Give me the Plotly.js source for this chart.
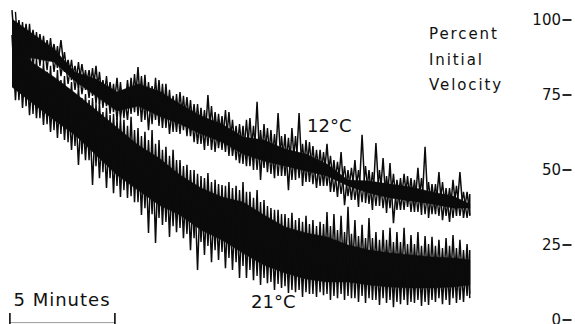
<!DOCTYPE html>
<html>
<head>
<meta charset="utf-8">
<script src="https://cdn.plot.ly/plotly-3.0.1.min.js"></script>
<style>
  html, body { margin: 0; padding: 0; background: #fff; }
  #chart { width: 575px; height: 324px; }
</style>
</head>
<body>
<div id="chart"></div>
<script>
// ---- data (time in minutes, value in percent of initial velocity) ----
const spikeTimes = [0,0.33,0.67,1,1.33,1.67,2,2.33,2.67,3,3.33,3.67,4,4.33,4.67,5,5.33,5.67,6,6.33,6.67,7,7.33,7.67,8,8.33,8.67,9,9.33,9.67,10,10.33,10.67,11,11.33,11.67,12,12.33,12.67,13,13.33,13.67,14,14.33,14.67,15,15.33,15.67,16,16.33,16.67,17,17.33,17.67,18,18.33,18.67,19,19.33,19.67,20,20.33,20.67,21,21.33,21.67];

// 12 °C trace: large upper / lower excursions
const hi12 = [103.3,100,98.7,96.7,95.3,93.3,92,93.3,86.7,84.7, 85.3,83.3,84.7,80,79.3,80.7,76.7,80.7,84.3,81.7, 78,80,78.7,74.7,76,74.3,72,70.7,75,69.3, 68,69.3,64.7,64.7,67.3,72.7,65.3,63.3,69,62, 64,69,60,58,56.7,58.7,53.3,56,50,53.3, 61.7,50,59,54,52.3,46.7,48.7,47.3,50.7,57.7, 45.3,49.3,44,46.7,49.3,42.7];
const lo12 = [88.3,89.3,86.7,87.3,86,86.7,84,82.7,80,77.3, 76.7,74.7,72,71.3,69.3,67.3,66.7,69.3,66,63.3, 66.7,64,62,62.7,63.3,61.3,58.7,56.7,56.7,57.3, 56,54.7,52.3,51.3,50,46.7,49.3,47.3,48,43.3, 46.7,44.7,46,44,44.7,42.7,41,38.3,40,37.7, 39,36.7,38,35.7,32.3,36.7,37.7,36,35,34, 35.3,33.3,32.7,34.7,34,35];
// 12 °C trace: smaller excursions in between
const hiB12 = [102.7,99.3,98.7,96,94.7,94,91.3,89.3,86.7,86, 83.3,84,82.7,81.3,78.7,79.3,80,82,81.3,79.3, 80.7,78.7,76.7,75.3,74.7,73.3,72,70,71.3,68.7, 70,66.7,65.3,66.7,64.7,63.3,64,62,61.3,60.7, 61.3,58.7,59.3,56.7,56,54.7,52.7,51.3,50.7,50, 51.3,49.3,50,48,48.7,47.3,48,46.7,47.3,46, 45.3,46,44,44.7,42.7,42];
const loB12 = [85.3,86,84,84.7,83.3,82.7,81.3,78.7,76.7,75.3, 74,72,70.7,68.7,66.7,67.3,68.7,68,66.7,65.3, 64.7,64,62.7,62,61.3,59.3,58.7,58,56,56.7, 54.7,53.3,52,51.3,50,50.7,48.7,48,48,46.7, 47.3,46,45.3,44.7,44.7,42.7,42,41.3,40,39.3, 38.7,38,37.3,37.3,36.7,36.7,36,36,35.3,35.3, 34.7,34.7,34,34.7,34,34.7];

// 21 °C trace
const hi21 = [95,92.7,88.3,86,83.3,82.7,80.7,80,77.3,75, 74,73.3,72,69.3,68.3,67.3,66.7,67.7,64,62.7, 63.3,60,57.7,56.7,53.3,51.7,50,48,49,46.7, 45,46,44.7,46,42.7,43.3,40,37.3,36.7,35.3, 35.7,34,34.7,33.3,32.7,36,35.3,34.7,37.7,33.3, 31.7,34,29.3,30,30.7,29.3,30.7,28.3,29.3,28, 27.7,26.7,27.3,28.3,26.7,25.3];
const lo21 = [73.3,70.7,68.3,67.3,65,62.7,60.7,60,56.7,51.7, 53.3,45,47.3,44,42.3,41,40.7,39.3,35,29, 25.7,31.7,27.7,29.3,27.3,23.3,16.7,21.7,19.3,20, 17.3,16.7,14,14,13.3,11.7,12.3,10,10.7,9, 9.3,7.7,8.7,7.7,8.3,6.7,7.3,6.7,7.3,6, 5.7,6.7,5,5.7,4.3,5.3,5,5.7,4.7,5, 6,5.3,5,5.7,6,7.3];
const hiB21 = [94.7,92,90,87.3,86,84.7,83.3,81.3,79.3,78, 75.3,74,72.7,70.7,68.7,67.3,64.7,63.3,61.3,60, 58.7,56.7,54.7,53.3,51.3,50,48.7,47.3,46,45.3, 44.7,44,43.3,42.7,40.7,39.3,38,36.7,35.3,34, 33.3,32.7,32,31.3,32,31.3,30,29.3,28.7,28, 27.3,27.3,26.7,26.7,26,26,25.3,25.3,24.7,25.3, 24.7,24,24.7,24,23.3,23.3];
const loB21 = [73.3,71.3,68.7,67.3,65.3,63.3,62,59.3,58,55.3, 53.3,51.3,49.3,47.3,44.7,43.3,41.3,39.3,37.3,35.3, 34,32.7,31.3,30.7,28.7,27.3,26,24.7,23.3,22.7, 20.7,19.3,18,16.7,14.7,14,12.7,12,11.3,10, 10,9.3,8.7,9.3,8.7,8,8.7,8,7.3,8, 7.3,6.7,7.3,6.7,6,6.7,6,6.7,6,6.7, 7.3,6.7,7.3,6.7,8,8.7];

// solid inner core of each band
const coreTimes = [0,1,2,3,4,5,6,7,8,9,10,11,12,13,14,15,16,17,18,19,20,21,21.8];
const coreTop12 = [100.3,95.3,90.3,82.7,80.3,76,78.7,76.3,72,68,65.3,61,60,57,55.3,52,46.7,46.3,45.3,44.3,42.7,41.3,38.7];
const coreBot12 = [88,87.3,86,79.7,74.7,69.7,71.3,68,65.3,62,59.3,55.3,53,51.3,49.7,48,44.7,42.3,40.7,39.7,38.7,37.3,37.3];
const coreTop21 = [93.3,85.7,81,75.7,70,64.3,58.3,54,48.3,44,41,39.3,35,31,29,27.7,25,23.3,22.3,21.7,21,20.7,20];
const coreBot21 = [77.7,72.3,66.7,61.7,55,48.3,43.3,38.3,35,30,26.7,22.3,18.3,15.7,13.7,12.7,12.7,11.7,11,10.7,10.7,11,11.7];

const yTickVals = [0, 25, 50, 75, 100];
const yTickText = ['0', '25', '50', '75', '100'];
const seriesLabels = ['12°C', '21°C'];
const axisTitleLines = ['Percent', 'Initial', 'Velocity'];
const scaleBarStart = -0.1;
const scaleBarMinutes = 5;
const scaleBarLabel = '5 Minutes';

// ---- helpers ----
const W = 575, H = 324, ML = 0, MR = 3;
const PW = W - ML - MR;
const px = x => (x - ML) / PW;
const py = y => 1 - y / H;
const INK = '#0b0b0b';
const FONT = 'DejaVu Sans, Liberation Sans, sans-serif';
const T_END = 21.8;

// pen strokes: upper excursion at each sample, lower excursion a given fraction of a step later
function strokes(times, hi, lo, hiShift, loShift) {
  const xs = [], ys = [];
  for (let i = 0; i < times.length; i++) {
    const step = i + 1 < times.length ? times[i + 1] - times[i] : times[i] - times[i - 1];
    xs.push(Math.min(times[i] + hiShift * step, T_END)); ys.push(hi[i]);
    xs.push(Math.min(times[i] + loShift * step, T_END)); ys.push(lo[i]);
  }
  return { xs, ys };
}
function band(times, top, bot) {
  return { x: times.concat(times.slice().reverse()), y: top.concat(bot.slice().reverse()) };
}

const b12 = band(coreTimes, coreTop12, coreBot12);
const b21 = band(coreTimes, coreTop21, coreBot21);
const a12 = strokes(spikeTimes, hi12, lo12, 0, 0.5);
const c12 = strokes(spikeTimes, hiB12, loB12, 0.5, 1);
const a21 = strokes(spikeTimes, hi21, lo21, 0, 0.5);
const c21 = strokes(spikeTimes, hiB21, loB21, 0.5, 1);

const fillTrace = b => ({ x: b.x, y: b.y, type: 'scatter', mode: 'lines', fill: 'toself', fillcolor: INK, line: { color: INK, width: 0.5 }, hoverinfo: 'skip' });
const lineTrace = (s, w, name) => ({ x: s.xs, y: s.ys, type: 'scatter', mode: 'lines', line: { color: INK, width: w }, name });

const traces = [
  fillTrace(b21), fillTrace(b12),
  lineTrace(c21, 1.4, seriesLabels[1]), lineTrace(a21, 1.5, seriesLabels[1]),
  lineTrace(c12, 1.4, seriesLabels[0]), lineTrace(a12, 1.5, seriesLabels[0])
];

const annotations = [
  ...axisTitleLines.map((t, i) => ({
    xref: 'paper', yref: 'paper', x: px(427), y: py([34, 60, 85.5][i]),
    xanchor: 'left', yanchor: 'middle', align: 'left', showarrow: false, text: t,
    font: { family: FONT, size: 15, color: '#111' }
  })),
  { xref: 'paper', yref: 'paper', x: px(328.5), y: py(126), xanchor: 'center', yanchor: 'middle', showarrow: false,
    text: seriesLabels[0], font: { family: FONT, size: 18, color: '#111' } },
  { xref: 'paper', yref: 'paper', x: px(272.5), y: py(301), xanchor: 'center', yanchor: 'middle', showarrow: false,
    text: seriesLabels[1], font: { family: FONT, size: 18, color: '#111' } },
  { xref: 'x', yref: 'paper', x: scaleBarStart + scaleBarMinutes / 2, y: py(299.5), xanchor: 'center', yanchor: 'middle', showarrow: false,
    text: scaleBarLabel, font: { family: FONT, size: 18, color: '#111' } }
];

const shapes = [
  { type: 'line', xref: 'x', yref: 'paper', x0: scaleBarStart, x1: scaleBarStart + scaleBarMinutes, y0: py(322.6), y1: py(322.6), line: { color: '#9a9a9a', width: 1 } },
  { type: 'line', xref: 'x', yref: 'paper', x0: scaleBarStart, x1: scaleBarStart, y0: py(313), y1: py(324), line: { color: INK, width: 1.6 } },
  { type: 'line', xref: 'x', yref: 'paper', x0: scaleBarStart + scaleBarMinutes, x1: scaleBarStart + scaleBarMinutes, y0: py(313), y1: py(324), line: { color: INK, width: 1.6 } },
  // tick dashes at the axis tick values
  ...yTickVals.map(v => ({ type: 'line', xref: 'paper', yref: 'y', x0: px(562.5), x1: px(571.5), y0: v, y1: v, line: { color: '#111', width: 1.8 } }))
];

const layout = {
  width: W, height: H,
  margin: { l: ML, r: MR, t: 0, b: 0, pad: 0 },
  paper_bgcolor: '#fff', plot_bgcolor: '#fff',
  showlegend: false,
  xaxis: { range: [-12 / 21, (PW - 12) / 21], visible: false, fixedrange: true },
  yaxis: {
    range: [-4 / 3, 320 / 3], side: 'right',
    showgrid: false, zeroline: false, showline: false,
    tickmode: 'array', tickvals: yTickVals, ticktext: yTickText,
    ticks: 'inside', ticklen: 11, tickwidth: 1, tickcolor: 'rgba(0,0,0,0)',
    ticklabelposition: 'inside', ticklabeloverflow: 'allow',
    tickfont: { family: FONT, size: 15, color: '#111' }, fixedrange: true
  },
  annotations, shapes
};

Plotly.newPlot('chart', traces, layout, { staticPlot: true, displayModeBar: false }).then(gd => {
  gd.querySelectorAll('.annotation-text').forEach(el => {
    const t = el.textContent;
    if (axisTitleLines.includes(t)) el.style.letterSpacing = '1.9px';
    if (t === scaleBarLabel) el.style.letterSpacing = '1px';
  });
});
</script>
</body>
</html>
